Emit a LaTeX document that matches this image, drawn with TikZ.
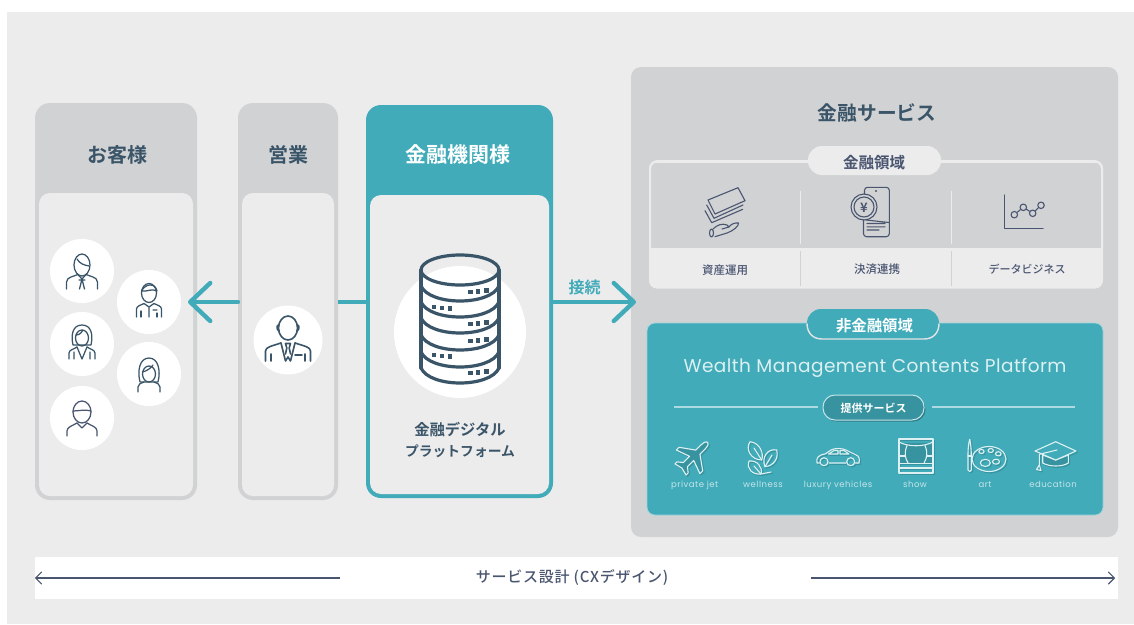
\documentclass[tikz,border=0pt]{standalone}
\usepackage{fontspec}
\setmainfont[BoldFont={Noto Sans CJK JP Medium}]{Noto Sans CJK JP}
\newfontfamily\jpb{Noto Sans CJK JP Bold}
\newfontfamily\latinw{Poppins}
\usetikzlibrary{arrows.meta}
\definecolor{bgl}{HTML}{ECECED}
\definecolor{grayp}{HTML}{D1D2D4}
\definecolor{tealp}{HTML}{41ABB9}
\definecolor{teald}{HTML}{37939F}
\definecolor{inkd}{HTML}{3A5468}
\definecolor{inkb}{HTML}{4A5570}
\definecolor{icol}{HTML}{DDF0F2}
\definecolor{labl}{HTML}{C6E5EA}
\tikzset{
 x=1pt,y=-1pt,
 box/.style={anchor=north west,inner sep=0pt,outer sep=0pt,fill=#1},
 head/.style={font=\fontsize{#1}{#1}\selectfont\jpb,text=inkd,inner sep=0pt},
 txt/.style={font=\fontsize{#1}{#1}\selectfont\bfseries,text=inkb,inner sep=0pt},
 disc/.style={circle,fill=white,inner sep=0pt,minimum size=#1},
 conn/.style={tealp,line width=4.4pt,line cap=round},
 thin arrow/.style={inkb,line width=1.1pt,-{Straight Barb[length=6pt,width=12pt,round]}},
 ppl/.style={inkd,line width=1.25pt,line cap=round,line join=round},
 fin/.style={inkb,line width=1.1pt,line cap=round,line join=round},
 ico/.style={line width=1.1pt,line cap=round,line join=round},
 small/.style={anchor=base,font=\fontsize{8.5}{8.5}\selectfont\latinw\addfontfeature{LetterSpace=6},text=labl,inner sep=0pt},
 jetp/.pic={\filldraw[ico,fill=teald,rotate=-45,scale=.98] (0,-21) .. controls (2.5,-21) and (3,-17) .. (3,-14) -- (3,-7) -- (17,3) -- (17,7) -- (3,2) -- (3,11) -- (8,15) -- (8,18) -- (0,16) -- (-8,18) -- (-8,15) -- (-3,11) -- (-3,2) -- (-17,7) -- (-17,3) -- (-3,-7) -- (-3,-14) .. controls (-3,-17) and (-2.5,-21) .. (0,-21) -- cycle;},
 leafp/.pic={
  \draw[ico] (-13,-15.3) .. controls (-18,-8) and (-12,3) .. (-1.3,3) .. controls (1,-4) and (-3,-14) .. (-13,-15.3) -- cycle;
  \draw[ico] (-9,-9) -- (-1.3,3);
  \draw[ico] (13.7,-7) .. controls (5,-9) and (-2,0) .. (2,9.7) .. controls (10,9) and (16,2) .. (13.7,-7) -- cycle;
  \draw[ico] (9,-2) -- (2,9.7);
  \draw[ico] (-14,4) .. controls (-17,12) and (-10,18) .. (-2,17) .. controls (0,10) and (-6,3) .. (-14,4) -- cycle;
  \draw[ico] (-9,9) -- (-2,17) -- (8,15);},
 carp/.pic={
  \draw[ico] (-9,6) -- (8,6) (17,6) -- (21,6) .. controls (22,2) and (21,-1) .. (18,-2) -- (8,-7) .. controls (4,-9) and (-4,-9) .. (-7,-7) -- (-13,-3) .. controls (-20,-2) and (-22,1) .. (-21,6) -- (-18.5,6);
  \draw[ico] (-9.5,-3) -- (-4,-6.5) -- (0,-6.5) -- (0,-3) -- cycle (2,-3) -- (2,-6.5) -- (6,-6.5) -- (11,-3) -- cycle;
  \draw[ico] (-14,4.7) circle (4) (12.7,4.7) circle (4);},
 showp/.pic={
  \fill[teald] (-16,-13) rectangle (16,7);
  \draw[ico] (-17,-17) rectangle (17,17);
  \draw[ico] (-17,7.3) -- (17,7.3) (-17,12) -- (17,12);
  \draw[ico] (-17,-14) .. controls (-8,-9) and (8,-9) .. (17,-14);
  \draw[ico] (-9,-10.5) .. controls (-12,-3) and (-11,2) .. (-8,7) (9,-10.5) .. controls (12,-3) and (11,2) .. (8,7);
  \draw[ico] (-17,0) -- (-11,0) (17,0) -- (11,0);},
 palp/.pic={
  \draw[ico] (0,2) ellipse (17 and 12.5);
  \draw[ico] (-19.3,-17.7) .. controls (-21.5,-10) and (-21,0) .. (-21,13) .. controls (-20,15) and (-18.5,15) .. (-17.6,13) .. controls (-17.6,0) and (-17.5,-10) .. (-19.3,-17.7) -- cycle;
  \draw[ico] (-21,-1) -- (-17.6,-1);
  \draw[ico] (-7.5,-5.5) ellipse (2.6 and 2) (1.7,-6.5) ellipse (2.6 and 2) (9.3,-3.2) ellipse (2.8 and 2.1) (7,4.7) ellipse (3.5 and 2.5) (-3.7,5.9) ellipse (5 and 3.6);},
 capp/.pic={
  \filldraw[ico,fill=teald] (-12.3,1) -- (-12.3,9) .. controls (-5,13) and (7,13) .. (13.3,9) -- (13.3,1) -- (.7,6) -- cycle;
  \filldraw[ico,fill=tealp] (-20,-3) -- (.7,-12.3) -- (21,-3) -- (.7,6) -- cycle;
  \draw[ico] (2,-4) -- (-15.7,.3) -- (-15.7,11);
  \draw[ico] (-15.7,11) -- (-18.5,15.5) -- (-14,16.5) -- cycle;},
}
\newcommand{\shico}[3]{%
 \pic[teald] at (#2+1.3,#3+1.3) {#1};
 \pic[icol] at (#2,#3) {#1};}
\begin{document}
\begin{tikzpicture}
\useasboundingbox (0,0) rectangle (1134,624);
\fill[white] (0,0) rectangle (1134,624);
\fill[bgl] (7,12) rectangle (1134,624);
% left panels
\node[box=grayp,rounded corners=15pt,minimum width=162pt,minimum height=397pt] (cust) at (35,103) {};
\node[box=bgl,rounded corners=11pt,minimum width=154pt,minimum height=303pt] (custin) at (39,193) {};
\node[box=grayp,rounded corners=15pt,minimum width=100pt,minimum height=397pt] (sales) at (238,103) {};
\node[box=bgl,rounded corners=11pt,minimum width=92pt,minimum height=303pt] (salesin) at (242,193) {};
\node[box=tealp,rounded corners=15pt,minimum width=187pt,minimum height=393pt] (bank) at (366,105) {};
\node[box=bgl,rounded corners=11pt,minimum width=179pt,minimum height=299pt] (bankin) at (370,195) {};
\node[head=20] (t1) at (117,155) {お客様};
\node[head=20] (t2) at (288,155) {営業};
\node[head=21,text=white] (t3) at (458,155) {金融機関様};
% connectors
\coordinate (tipL) at (188,302);
\coordinate (tipR) at (636,302);
\draw[conn,line cap=butt] (sales.east |- tipL) -- (bank.west |- tipL);
\draw[conn,-{Straight Barb[length=20pt,width=38pt,round]}] (sales.west |- tipL) -- (tipL);
% customers
\node[disc=64pt] (c1) at (82,271) {};
\node[disc=64pt] (c2) at (149,302) {};
\node[disc=64pt] (c3) at (82,344) {};
\node[disc=64pt] (c4) at (149,374) {};
\node[disc=64pt] (c5) at (82,418) {};
\node[disc=69pt] (s1) at (288,340) {};
% person 1
\begin{scope}[shift={(82,271)},ppl]
\draw (0,-6) ellipse (8 and 11);
\draw (-5,-12) .. controls (-2,-7) and (2,-6) .. (7,-5);
\draw (-15.5,18) -- (-15.5,11) .. controls (-15.5,8) and (-13,7) .. (-11,6) -- (-4,3.5);
\draw (15.5,18) -- (15.5,11) .. controls (15.5,8) and (13,7) .. (11,6) -- (4,3.5);
\draw (-4,3.5) -- (0,8) -- (4,3.5) (0,8) -- (-2.5,18) (0,8) -- (2.5,18) (-3,9) -- (3,9);
\end{scope}
% person 2
\begin{scope}[shift={(149,302)},ppl]
\draw (0,-9) ellipse (7.5 and 9.5);
\draw (-7.5,-11) .. controls (-4,-18) and (6,-20) .. (8,-11) (-7.5,-11) .. controls (-2,-10) and (3,-14) .. (8,-11);
\draw (-12.5,15) -- (-12.5,7) .. controls (-12.5,4) and (-8,3) .. (-5,1.5);
\draw (12.5,15) -- (12.5,7) .. controls (12.5,4) and (8,3) .. (5,1.5);
\draw (-5,1.5) -- (0,5) -- (5,1.5) (0,5) -- (0,15) (4,8) -- (8,8);
\draw (-8,9) -- (-8,15) (8,11) -- (8,15);
\end{scope}
% person 3
\begin{scope}[shift={(82,344)},ppl]
\draw (-9,1) .. controls (-11,-8) and (-10,-19) .. (0,-19) .. controls (10,-19) and (11,-8) .. (9,1) -- cycle;
\draw (0,-6) ellipse (6.5 and 8);
\draw (-6,-9) .. controls (-2,-9) and (0,-12) .. (1,-14);
\draw (-13,15) -- (-13,9) .. controls (-13,6) and (-8,5) .. (-5,3);
\draw (13,15) -- (13,9) .. controls (13,6) and (8,5) .. (5,3);
\draw (-5,3) -- (0,15) -- (5,3) (-8,8) -- (-8,15) (8,8) -- (8,15);
\end{scope}
% person 4
\begin{scope}[shift={(149,374)},ppl]
\draw (-9,8) .. controls (-12,-4) and (-9,-16) .. (0,-16) .. controls (9,-16) and (12,-4) .. (9,8) -- (-9,8);
\draw (0,0) ellipse (6.5 and 8);
\draw (-6.5,-2) .. controls (-2,-3) and (2,-6) .. (4,-9);
\draw (-11,18) -- (-11,13) .. controls (-11,10) and (-8,9) .. (-5,8);
\draw (11,18) -- (11,13) .. controls (11,10) and (8,9) .. (5,8);
\end{scope}
% person 5
\begin{scope}[shift={(82,418)},ppl,inkb]
\draw (0,-6) ellipse (9 and 11);
\draw (-9,-7) .. controls (-3,-7) and (3,-9) .. (9,-7);
\draw (-15,18) -- (-15,13) .. controls (-15,9) and (-10,8) .. (-5,5);
\draw (15,18) -- (15,13) .. controls (15,9) and (10,8) .. (5,5);
\draw (-5,5) -- (0,10) -- (5,5);
\end{scope}
% salesman
\begin{scope}[shift={(288,340)},ppl,line width=1.6pt]
\draw (0,-12) ellipse (9.5 and 12);
\draw (-9.5,-15) .. controls (-11.5,-15) and (-11.5,-10) .. (-9,-9) (9.5,-15) .. controls (11.5,-15) and (11.5,-10) .. (9,-9);
\draw (-22.5,21) -- (-22.5,11) .. controls (-22.5,7) and (-16,6) .. (-7,3);
\draw (22.5,21) -- (22.5,11) .. controls (22.5,7) and (16,6) .. (7,3);
\draw (-7,3) -- (-2.5,21) -- (0,17) -- (2.5,21) -- (7,3);
\draw (-2.5,3.5) -- (2.5,3.5) -- (1.2,8) -- (2.5,14) (-2.5,3.5) -- (-1.2,8) -- (-2.5,14);
\draw (-17,14) -- (-17,21) (17,14) -- (17,21) (7,15) -- (14,15);
\end{scope}
% database
\node[disc=132pt] (dbc) at (460,332) {};
\begin{scope}[inkd,line width=3.2pt,line cap=round,line join=round]
\draw (460,270) ellipse (39 and 15);
\draw (421,270) -- (421,368) (499,270) -- (499,368);
\foreach \yy in {286,302,318,335,352,368}
 \draw (421,\yy) .. controls (430,\yy+20) and (490,\yy+20) .. (499,\yy);
\end{scope}
\begin{scope}[inkd]
\foreach \yy in {292,324,341,373}
 \foreach \xx/\dd in {470.5/0,478/-.7,486.5/-1.4}
  \fill (\xx-2.2,\yy+\dd-2.2) rectangle (\xx+2.2,\yy+\dd+2.2);
\foreach \yy in {307,355}
 \foreach \xx/\dd in {434/0,442/.7,450/1.4}
  \fill (\xx-2.2,\yy+\dd-2.2) rectangle (\xx+2.2,\yy+\dd+2.2);
\end{scope}
\node[head=15.3] (dp1) at (460,430) {金融デジタル};
\node[head=13.8] (dp2) at (460,451) {プラットフォーム};
% right panel
\node[box=grayp,rounded corners=10pt,minimum width=487pt,minimum height=470pt] (svc) at (631,67) {};
\draw[conn,-{Straight Barb[length=20pt,width=38pt,round]}] (bank.east |- tipL) -- (tipR);
\node[text=tealp,inner sep=0pt,font=\fontsize{16}{16}\selectfont\jpb] (conl) at (584.5,287) {接続};
\node[head=19.7] (svct) at (877,113) {金融サービス};
\node[box=bgl,rounded corners=8pt,minimum width=454pt,minimum height=128pt] (finl) at (649,160.5) {};
\fill[grayp] (651,162.5) -- (1101,162.5) -- (1101,247.5) -- (651,247.5) -- cycle;
\draw[bgl,line width=2pt,rounded corners=8pt] (650,247.5) -- (650,161) -- (1102,161) -- (1102,247.5);
\foreach \xx in {800.5,951.5}{
 \draw[bgl,line width=1pt] (\xx,191) -- (\xx,244);
 \draw[grayp,line width=1pt] (\xx,251) -- (\xx,286);}
\node[box=bgl,rounded corners=14pt,minimum width=133pt,minimum height=29pt] (finp) at (808,146) {};
\node[head=15.5,text=inkb] (fint) at (874,162.5) {金融領域};
\node[txt=11.5] (f1) at (725,270) {資産運用};
\node[txt=11.5] (f2) at (877,269) {決済連携};
\node[txt=11] (f3) at (1027,269.5) {データビジネス};
% money icon
\begin{scope}[fin]
\draw (708,200) -- (738,187.7) -- (745,200.7) -- (715,214) -- cycle;
\draw (706.7,205) -- (714,218.3) -- (743,205);
\draw (705,210.7) -- (711.7,222.7) -- (742.7,209.3);
\draw (713,229) .. controls (717,225) and (722,223) .. (727,225) -- (729,227) -- (722,229) (729,227) .. controls (731,224) and (735,222.5) .. (738.5,223) .. controls (739,226) and (733,231) .. (727,233) -- (715,236.7);
\draw (711.5,233) ellipse (2 and 4);
\end{scope}
% phone icon
\begin{scope}[fin]
\draw[rounded corners=3pt] (864.5,194) -- (864.5,187.3) -- (889.3,187.3) -- (889.3,236.7) -- (863.5,236.7) -- (863.5,220);
\draw (864,207) circle (13) (864,207) circle (10);
\fill (876,191) circle (1.2);
\draw (866,220) -- (889,222.5) (867,223.5) -- (885,223.5) (867,226.8) -- (885,226.8) (867,230) -- (879,230);
\node[text=inkb,inner sep=0pt,font=\fontsize{13}{13}\selectfont\jpb] (yen) at (864,207.5) {¥};
\end{scope}
% chart icon
\begin{scope}[fin]
\draw (1004.3,195) -- (1004.3,228.7) -- (1043,228.7);
\node[draw=inkb,line width=1.1pt,circle,inner sep=0pt,minimum size=6.5pt] (d1) at (1014.3,214.7) {};
\node[draw=inkb,line width=1.1pt,circle,inner sep=0pt,minimum size=6.5pt] (d2) at (1023.3,207.3) {};
\node[draw=inkb,line width=1.1pt,circle,inner sep=0pt,minimum size=6.5pt] (d3) at (1032.7,213.3) {};
\node[draw=inkb,line width=1.1pt,circle,inner sep=0pt,minimum size=6.5pt] (d4) at (1041,205.3) {};
\draw (d1) -- (d2) -- (d3) -- (d4);
\end{scope}
% non-finance
\node[box=tealp,draw=labl!70!tealp,line width=.7pt,rounded corners=8pt,minimum width=456pt,minimum height=192pt] (nonf) at (647,323) {};
\node[box=tealp,rounded corners=14pt,minimum width=132pt,minimum height=30pt] (nonp) at (807,309) {};
\draw[grayp!60!white,line width=1.4pt] (807,323.5) .. controls (807,333) and (813,339) .. (822,339) -- (924,339) .. controls (933,339) and (939,333) .. (939,323.5);
\node[head=15.4,text=white] (nont) at (874.5,325.5) {非金融領域};
\node[text=icol,inner sep=0pt,font=\fontsize{18.5}{18.5}\selectfont\latinw\addfontfeature{LetterSpace=2.5}] (wm) at (875,367.5) {Wealth Management Contents Platform};
\coordinate (ll) at (674,407);
\coordinate (rr) at (1075,407);
\draw[labl!80!tealp,line width=1.1pt] (ll) -- (818,407);
\draw[labl!80!tealp,line width=1.1pt] (932,407) -- (rr);
\fill[teald!85!black,rounded corners=12pt] (824.5,397.5) rectangle (925.5,421.5);
\node[box=teald,draw=labl,line width=1pt,rounded corners=12pt,minimum width=101pt,minimum height=25pt] (prov) at (823,395) {};
\node[head=11,text=white] (provt) at (873.5,408) {提供サービス};
\shico{jetp}{693}{457}
\shico{leafp}{763}{457}
\shico{carp}{838}{457}
\shico{showp}{916}{456}
\shico{palp}{989}{457}
\shico{capp}{1055}{454}
\node[small] (l1) at (694.7,487) {private jet};
\node[small] (l2) at (763,487) {wellness};
\node[small] (l3) at (838,487) {luxury vehicles};
\node[small] (l4) at (915,487) {show};
\node[small] (l5) at (985,487) {art};
\node[small] (l6) at (1053,487) {education};
% bottom strip
\node[box=white,minimum width=1083pt,minimum height=42pt] (strip) at (35,557) {};
\node[txt=15,font=\fontsize{15}{15}\selectfont\bfseries\addfontfeature{LetterSpace=5}] (cx) at (572,578) {サービス設計 (CXデザイン)};
\coordinate (al) at (340,578);
\coordinate (ar) at (811,578);
\coordinate (tl) at (35,578);
\coordinate (tr) at (1115,578);
\draw[thin arrow] (al) -- (tl);
\draw[thin arrow] (ar) -- (tr);
\end{tikzpicture}
\end{document}
